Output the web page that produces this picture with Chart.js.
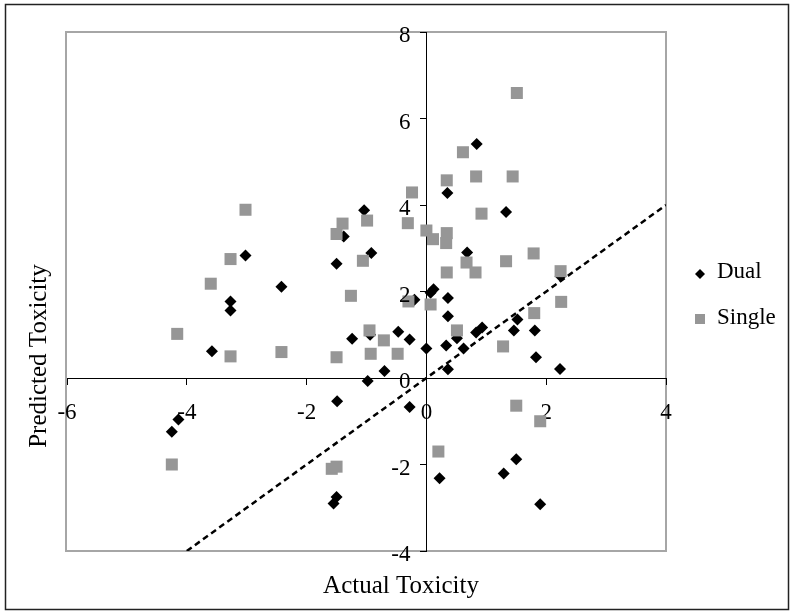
<!DOCTYPE html>
<html>
<head>
<meta charset="utf-8">
<script src="https://cdn.jsdelivr.net/npm/chart.js@4.4.0/dist/chart.umd.min.js"></script>
<style>
  html, body { margin: 0; padding: 0; background: #fff; }
  #wrap { width: 794px; height: 615px; }
</style>
</head>
<body>
<div id="wrap"><canvas id="toxChart" width="794" height="615"></canvas></div>
<script>
// Dual-target model: actual vs predicted
const dualX = [-4.14, -4.25, -1.49, -1.50, -1.55, -0.98, -0.28, 0.22, 2.24, 1.52,
               1.46, 1.81, 0.93, 0.83, 1.83, 2.23, 1.50, 1.29, 1.90, 0.84,
               1.33, 0.35, -1.04, -1.38, -0.92, -1.50, 0.68, -3.02, -2.42, -3.27,
               -3.27, -3.58, 0.12, 0.07, -0.20, 0.36, 0.36, 0.51, -1.24, -0.47,
               -0.28, 0.00, 0.33, 0.62, -0.70, 0.36, -0.94];
const dualY = [-0.96, -1.24, -0.54, -2.75, -2.90, -0.07, -0.67, -2.32, 2.35, 1.35,
               1.10, 1.10, 1.17, 1.05, 0.48, 0.21, -1.88, -2.21, -2.92, 5.41,
               3.84, 4.28, 3.88, 3.27, 2.89, 2.64, 2.90, 2.83, 2.11, 1.77,
               1.56, 0.62, 2.05, 1.97, 1.81, 1.85, 1.43, 0.92, 0.91, 1.07,
               0.89, 0.68, 0.75, 0.68, 0.16, 0.20, 1.00];

// Single-target model
const singleX = [-4.25, -1.58, -1.50, 0.20, 2.24, 2.25, 1.80, 1.28, 1.50, 1.90,
                 1.51, 1.44, 0.83, 0.92, 1.33, 1.79, 0.61, 0.34, -0.24, -0.99,
                 -1.40, -1.50, -0.31, 0.00, 0.11, 0.34, 0.33, -1.06, 0.67, 0.82,
                 0.34, -3.02, -3.27, -3.60, -4.16, -3.27, -2.42, -1.26, -0.30, 0.07,
                 0.51, -0.95, -0.71, -1.50, -0.93, -0.48];
const singleY = [-2.00, -2.10, -2.05, -1.70, 2.47, 1.76, 1.50, 0.73, -0.64, -1.00,
                 6.59, 4.66, 4.66, 3.80, 2.70, 2.88, 5.22, 4.57, 4.29, 3.64,
                 3.57, 3.33, 3.58, 3.41, 3.21, 3.35, 3.12, 2.71, 2.67, 2.44,
                 2.44, 3.89, 2.75, 2.18, 1.02, 0.50, 0.60, 1.90, 1.77, 1.70,
                 1.10, 1.10, 0.87, 0.48, 0.56, 0.56];

// y = x reference line
const fitLine = [-4, 4];

const xTicks = [-6, -4, -2, 0, 2, 4];
const yTicks = [-4, -2, 0, 2, 4, 6, 8];

const serif = "'Liberation Serif', 'Times New Roman', serif";

function toPoints(xs, ys) {
    return xs.map((x, i) => ({ x: x, y: ys[i] }));
}

// frame, plot box, y tick labels, axis titles and legend
const decorPlugin = {
    id: 'decor',
    beforeDraw(chart) {
        const ctx = chart.ctx;
        const a = chart.chartArea;
        ctx.save();
        ctx.fillStyle = '#fff';
        ctx.fillRect(0, 0, chart.width, chart.height);
        ctx.strokeStyle = '#222';
        ctx.lineWidth = 1.5;
        ctx.strokeRect(5.5, 4.5, 783, 605);
        ctx.strokeStyle = '#a6a6a6';
        ctx.lineWidth = 2;
        ctx.strokeRect(a.left - 1, a.top, a.right - a.left + 1, a.bottom - a.top);
        ctx.restore();
    },
    afterDraw(chart) {
        const ctx = chart.ctx;
        const xs = chart.scales.x;
        const ys = chart.scales.y;

        // y labels sit left of the crossing axis
        ctx.save();
        ctx.fillStyle = '#000';
        ctx.font = '23px ' + serif;
        ctx.textAlign = 'right';
        ctx.textBaseline = 'middle';
        const axisX = xs.getPixelForValue(0);
        yTicks.forEach(v => {
            ctx.fillText(String(v), axisX - 16, ys.getPixelForValue(v) + 4);
        });
        ctx.restore();

        ctx.save();
        ctx.fillStyle = '#000';
        ctx.font = '25px ' + serif;
        ctx.textAlign = 'center';
        ctx.textBaseline = 'alphabetic';
        ctx.fillText('Actual Toxicity', 401, 593);

        ctx.translate(46, 356);
        ctx.rotate(-Math.PI / 2);
        ctx.fillText('Predicted Toxicity', 0, 0);
        ctx.restore();

        // legend
        ctx.save();
        ctx.fillStyle = '#000';
        ctx.beginPath();
        ctx.moveTo(695, 274);
        ctx.lineTo(700, 269);
        ctx.lineTo(705, 274);
        ctx.lineTo(700, 279);
        ctx.closePath();
        ctx.fill();
        ctx.fillStyle = '#969696';
        ctx.fillRect(695, 314, 10, 10);
        ctx.fillStyle = '#000';
        ctx.font = '23px ' + serif;
        ctx.textAlign = 'left';
        ctx.textBaseline = 'alphabetic';
        ctx.fillText('Dual', 717, 278);
        ctx.fillText('Single', 717, 324);
        ctx.restore();
    }
};

const ctx = document.getElementById('toxChart').getContext('2d');

new Chart(ctx, {
    type: 'scatter',
    data: {
        datasets: [
            {
                label: 'Dual',
                data: toPoints(dualX, dualY),
                pointStyle: 'rectRot',
                pointRadius: 6,
                backgroundColor: '#000',
                borderWidth: 0,
                order: 3
            },
            {
                label: 'Single',
                data: toPoints(singleX, singleY),
                pointStyle: 'rect',
                pointRadius: 8.5,
                backgroundColor: '#969696',
                borderWidth: 0,
                order: 2
            },
            {
                label: 'y = x',
                data: toPoints(fitLine, fitLine),
                showLine: true,
                borderColor: '#000',
                borderWidth: 2.5,
                borderDash: [6, 4],
                pointRadius: 0,
                fill: false,
                order: 1
            }
        ]
    },
    options: {
        responsive: false,
        animation: false,
        events: [],
        layout: {
            padding: { left: 67, right: 128, top: 32, bottom: 64 }
        },
        plugins: {
            legend: { display: false },
            tooltip: { enabled: false }
        },
        scales: {
            x: {
                type: 'linear',
                min: -6,
                max: 4,
                position: { y: 0 },
                z: 1,
                afterBuildTicks: (scale) => { scale.ticks = xTicks.map(v => ({ value: v })); },
                grid: {
                    drawOnChartArea: false,
                    drawTicks: true,
                    tickLength: 6,
                    tickColor: '#000'
                },
                border: { display: true, color: '#000', width: 1 },
                ticks: {
                    color: '#000',
                    font: { family: serif, size: 23 },
                    padding: 15,
                    maxRotation: 0
                }
            },
            y: {
                type: 'linear',
                min: -4,
                max: 8,
                position: { x: 0 },
                z: 1,
                afterBuildTicks: (scale) => { scale.ticks = yTicks.map(v => ({ value: v })); },
                grid: {
                    drawOnChartArea: false,
                    drawTicks: true,
                    tickLength: 6,
                    tickColor: '#000'
                },
                border: { display: true, color: '#000', width: 1 },
                ticks: { display: false }
            }
        }
    },
    plugins: [decorPlugin]
});
</script>
</body>
</html>
